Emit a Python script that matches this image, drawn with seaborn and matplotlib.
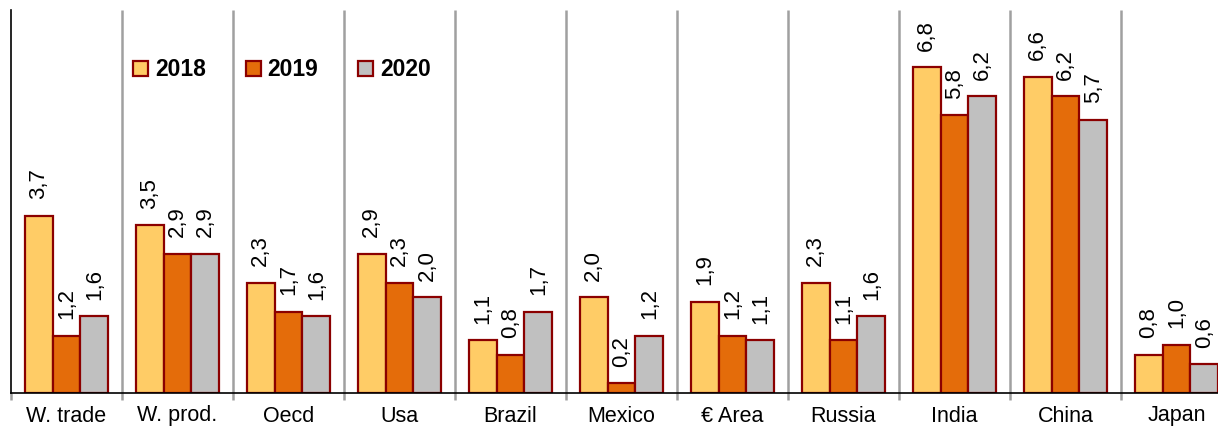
import matplotlib
matplotlib.use("Agg")
import matplotlib.pyplot as plt
import seaborn as sns
import pandas as pd
from matplotlib.patches import Patch

categories = ["W. trade", "W. prod.", "Oecd", "Usa", "Brazil", "Mexico", "€ Area",
              "Russia", "India", "China", "Japan"]
years = ["2018", "2019", "2020"]
v2018 = [3.7, 3.5, 2.3, 2.9, 1.1, 2.0, 1.9, 2.3, 6.8, 6.6, 0.8]
v2019 = [1.2, 2.9, 1.7, 2.3, 0.8, 0.2, 1.2, 1.1, 5.8, 6.2, 1.0]
v2020 = [1.6, 2.9, 1.6, 2.0, 1.7, 1.2, 1.1, 1.6, 6.2, 5.7, 0.6]
colors = ["#FFCC66", "#E46C0A", "#C0C0C0"]
edge = "#8B0000"

rows = []
for y, vals in zip(years, [v2018, v2019, v2020]):
    for c, v in zip(categories, vals):
        rows.append({"cat": c, "year": y, "val": v})
df = pd.DataFrame(rows)

sns.set_style("white")
plt.rcParams["font.family"] = ["Liberation Sans", "DejaVu Sans"]
plt.rcParams["text.color"] = "black"
plt.rcParams["xtick.color"] = "black"

fig = plt.figure(figsize=(12.18, 4.28), dpi=100)
W, H = 1218, 428
ax = fig.add_axes([11 / W, (H - 393) / H, 1221 / W, 383 / H])

sns.barplot(data=df, x="cat", y="val", hue="year", order=categories, hue_order=years,
            palette=colors, width=0.75, edgecolor=edge, linewidth=1.6, saturation=1,
            legend=False, ax=ax)

for cont in ax.containers:
    ax.bar_label(cont, labels=[f"{v:.1f}".replace(".", ",") for v in cont.datavalues],
                 rotation=90, padding=12, fontsize=16, color="black")

ax.set_ylim(0, 8)
ax.set_xlim(-0.5, len(categories) - 0.5)
ax.set_yticks([])
ax.set_xlabel("")
ax.set_ylabel("")
ax.tick_params(axis="x", length=0, labelsize=15.5, pad=9, labelcolor="black")

for s in ["top", "right"]:
    ax.spines[s].set_visible(False)
for s in ["left", "bottom"]:
    ax.spines[s].set_color("black")
    ax.spines[s].set_linewidth(1.2)

ax.vlines([i + 0.5 for i in range(len(categories))], -0.14, 8, colors="#A0A0A0",
          linewidth=1.8, clip_on=False, zorder=0)
ax.vlines([-0.5], -0.14, 0, colors="#A0A0A0", linewidth=1.8, clip_on=False, zorder=0)

handles = [Patch(facecolor=c, edgecolor=edge, linewidth=1.6) for c in colors]
leg = ax.legend(handles, years, ncol=3, loc="center left",
                bbox_to_anchor=((133 - 11) / 1221, (393 - 70) / 383),
                frameon=False, borderaxespad=0, borderpad=0,
                handlelength=0.65, handleheight=0.65, handletextpad=0.3,
                columnspacing=1.75, prop={"weight": "bold", "size": 16.5})
for t in leg.get_texts():
    t.set_color("black")

fig.savefig("out.png", dpi=100)
